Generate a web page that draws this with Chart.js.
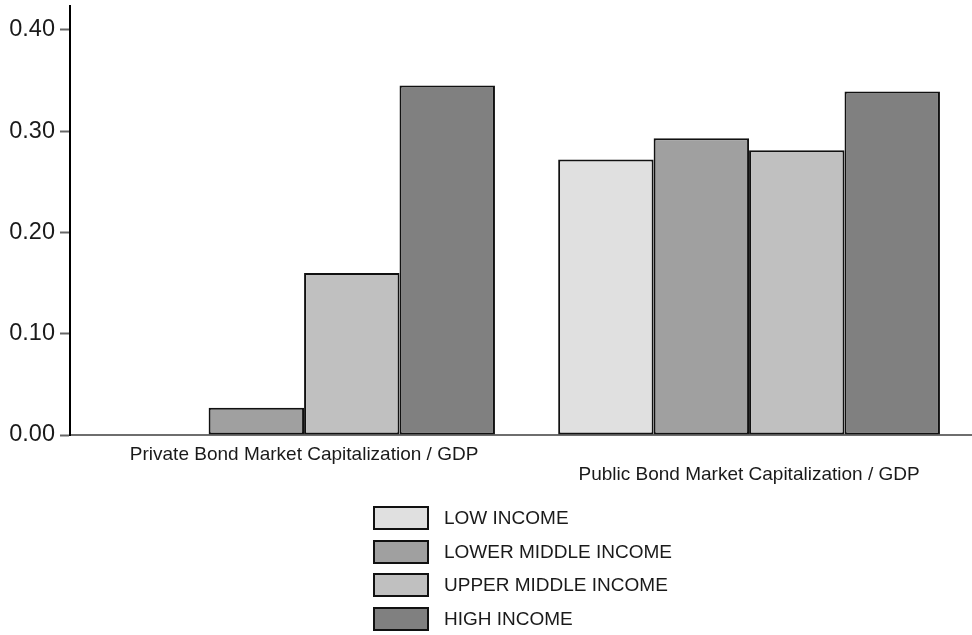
<!DOCTYPE html>
<html><head><meta charset="utf-8">
<script src="https://cdn.jsdelivr.net/npm/chart.js@4/dist/chart.umd.min.js"></script>
<style>
html,body{margin:0;padding:0;background:#fff;}
#wrap{position:relative;width:972px;height:635px;}
#legend{position:absolute;left:373px;top:506px;font:19px Arial,"Liberation Sans",sans-serif;color:#1a1a1a;}
.item{display:flex;align-items:center;height:24px;margin-bottom:9.7px;}
.box{box-sizing:border-box;width:56px;height:24px;border:2px solid #111;margin-right:15px;}
</style></head><body>
<div id="wrap"><canvas id="c" width="972" height="635"></canvas><div id="legend"></div></div>
<script>
const categories = ["Private Bond Market Capitalization / GDP", "Public Bond Market Capitalization / GDP"];
const seriesNames = ["LOW INCOME", "LOWER MIDDLE INCOME", "UPPER MIDDLE INCOME", "HIGH INCOME"];
const lowIncome = [null, 0.272];
const lowerMiddleIncome = [0.027, 0.293];
const upperMiddleIncome = [0.160, 0.281];
const highIncome = [0.345, 0.339];
const yTicks = [0, 0.1, 0.2, 0.3, 0.4];
const colors = ["#e0e0e0", "#a0a0a0", "#c0c0c0", "#808080"];

const FONT = 'Arial, "Liberation Sans", sans-serif';
const seriesData = [lowIncome, lowerMiddleIncome, upperMiddleIncome, highIncome];

const chart = new Chart(document.getElementById('c'), {
  type: 'bar',
  data: {
    labels: categories.map((_, i) => i),
    datasets: seriesNames.map((name, i) => ({
      label: name,
      data: seriesData[i],
      backgroundColor: colors[i],
      borderColor: '#111',
      borderWidth: 2,
      borderSkipped: false,
      categoryPercentage: 0.858,
      barPercentage: 1
    }))
  },
  options: {
    responsive: false,
    animation: false,
    layout: { padding: { top: 6, bottom: 140, left: 0, right: 0 } },
    plugins: { legend: { display: false }, tooltip: { enabled: false } },
    scales: {
      x: {
        type: 'linear',
        min: -0.526,
        max: 1.501,
        offset: false,
        grid: { display: false, drawTicks: false },
        border: { display: true, color: '#6e6e6e', width: 2 },
        afterBuildTicks: s => { s.ticks = categories.map((_, i) => ({ value: i })); },
        afterFit: s => { s.height = 60; s.paddingLeft = 0; s.paddingRight = 0; },
        ticks: {
          autoSkip: false,
          maxRotation: 0,
          padding: 10,
          color: '#1a1a1a',
          font: { family: FONT, size: 19, lineHeight: 1.05 },
          callback: v => { const i = Math.round(v); return i % 2 === 0 ? categories[i] : ['', categories[i]]; }
        }
      },
      y: {
        min: 0,
        max: 0.4235,
        afterBuildTicks: s => { s.ticks = yTicks.map(v => ({ value: v })); },
        afterFit: s => { s.width = 70; s.paddingTop = 0; s.paddingBottom = 0; },
        grid: { drawOnChartArea: false, drawTicks: true, tickLength: 10, tickColor: '#666', tickWidth: 2 },
        border: { display: true, color: '#000', width: 2 },
        ticks: {
          padding: 5,
          color: '#1a1a1a',
          font: { family: FONT, size: 23.5 },
          callback: v => v.toFixed(2)
        }
      }
    }
  }
});

const legend = document.getElementById('legend');
seriesNames.forEach((name, i) => {
  const item = document.createElement('div');
  item.className = 'item';
  const box = document.createElement('div');
  box.className = 'box';
  box.style.background = colors[i];
  const txt = document.createElement('span');
  txt.textContent = name;
  item.appendChild(box);
  item.appendChild(txt);
  legend.appendChild(item);
});
</script>
</body></html>
